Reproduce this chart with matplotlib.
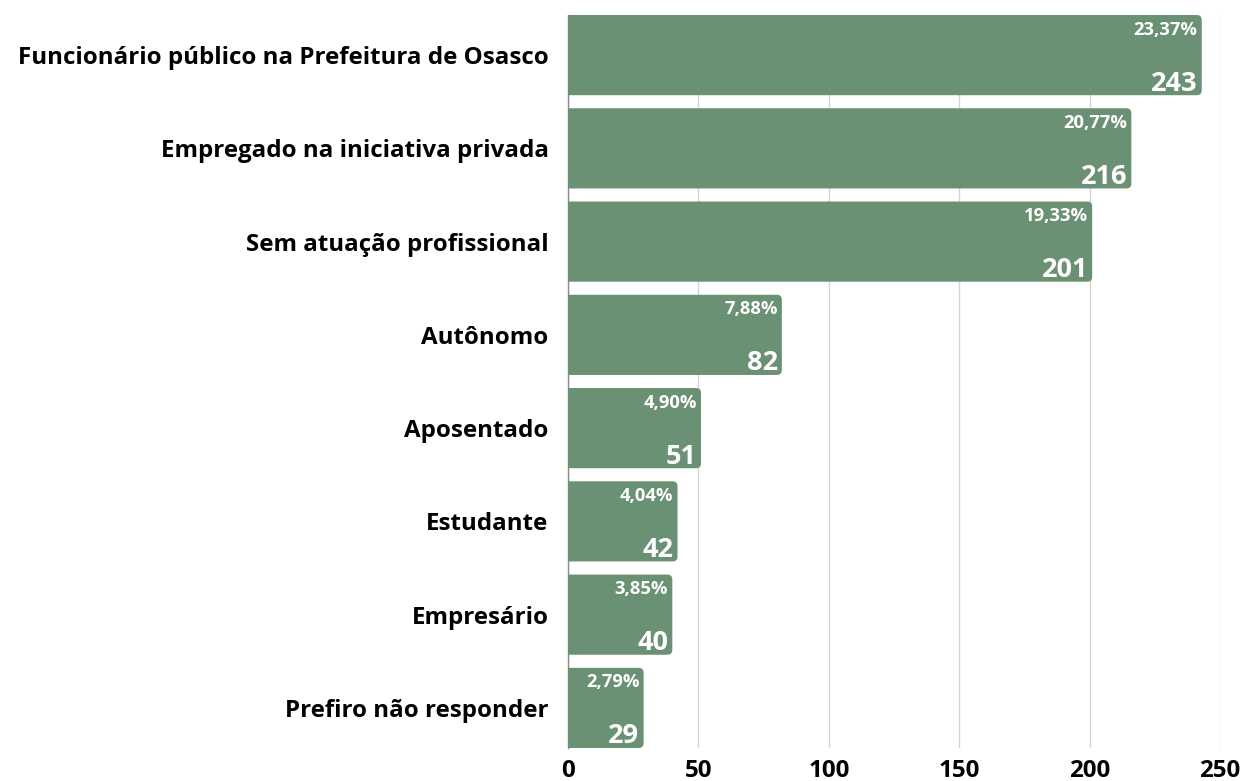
import matplotlib.pyplot as plt
from matplotlib.path import Path
from matplotlib.patches import PathPatch

plt.rcParams['font.family'] = ['Open Sans', 'DejaVu Sans']

# Data
categorias = ['Funcionário público na Prefeitura de Osasco', 'Empregado na iniciativa privada',
              'Sem atuação profissional', 'Autônomo', 'Aposentado', 'Estudante',
              'Empresário', 'Prefiro não responder']
valores = [243, 216, 201, 82, 51, 42, 40, 29]
percentuais = ['23,37%', '20,77%', '19,33%', '7,88%', '4,90%', '4,04%', '3,85%', '2,79%']
xticks = [0, 50, 100, 150, 200, 250]

cor = '#6b9174'
W, H = 1244, 781

fig = plt.figure(figsize=(W / 100, H / 100), dpi=100)
ax = fig.add_axes([568 / W, 1 - 748 / H, (1220 - 568) / W, (748 - 15) / H])
ax.set_xlim(0, 250)
ax.set_ylim(7.43, -0.43)

altura = 0.86
px_x = (1220 - 568) / 250          # pixels per x unit
px_y = (748 - 15) / 7.86           # pixels per y unit
rx, ry = 5 / px_x, 5 / px_y        # corner radius in data units


def barra_arredondada(y0, y1, v):
    verts = [(0, y0), (v - rx, y0), (v, y0), (v, y0 + ry), (v, y1 - ry),
             (v, y1), (v - rx, y1), (0, y1), (0, y0)]
    codes = [Path.MOVETO, Path.LINETO, Path.CURVE3, Path.CURVE3, Path.LINETO,
             Path.CURVE3, Path.CURVE3, Path.LINETO, Path.CLOSEPOLY]
    return PathPatch(Path(verts, codes), fc=cor, ec='none', zorder=3)


for i, (v, p) in enumerate(zip(valores, percentuais)):
    ax.add_patch(barra_arredondada(i - altura / 2, i + altura / 2, v))
    ax.annotate(p, (v, i - altura / 2), xytext=(-3, -4), textcoords='offset points',
                ha='right', va='top', color='white', fontsize=13.2, fontweight='bold', zorder=4)
    ax.annotate(str(v), (v, i + altura / 2), xytext=(-3, -1), textcoords='offset points',
                ha='right', va='bottom', color='white', fontsize=19.5, fontweight='bold', zorder=4)

ax.set_yticks(range(len(categorias)))
ax.set_yticklabels(categorias, fontsize=17.4, fontweight='bold')
ax.set_xticks(xticks)
ax.set_xticklabels([str(t) for t in xticks], fontsize=17.4, fontweight='bold')
ax.tick_params(length=0)
ax.tick_params(axis='y', pad=14)
ax.tick_params(axis='x', pad=8)

ax.grid(axis='x', color='#d4d4d4', linewidth=1, zorder=0)
for s in ['top', 'right', 'bottom']:
    ax.spines[s].set_visible(False)
ax.spines['left'].set_color('#8c8c8c')
ax.spines['left'].set_linewidth(1)

plt.savefig('out.png', dpi=100)
